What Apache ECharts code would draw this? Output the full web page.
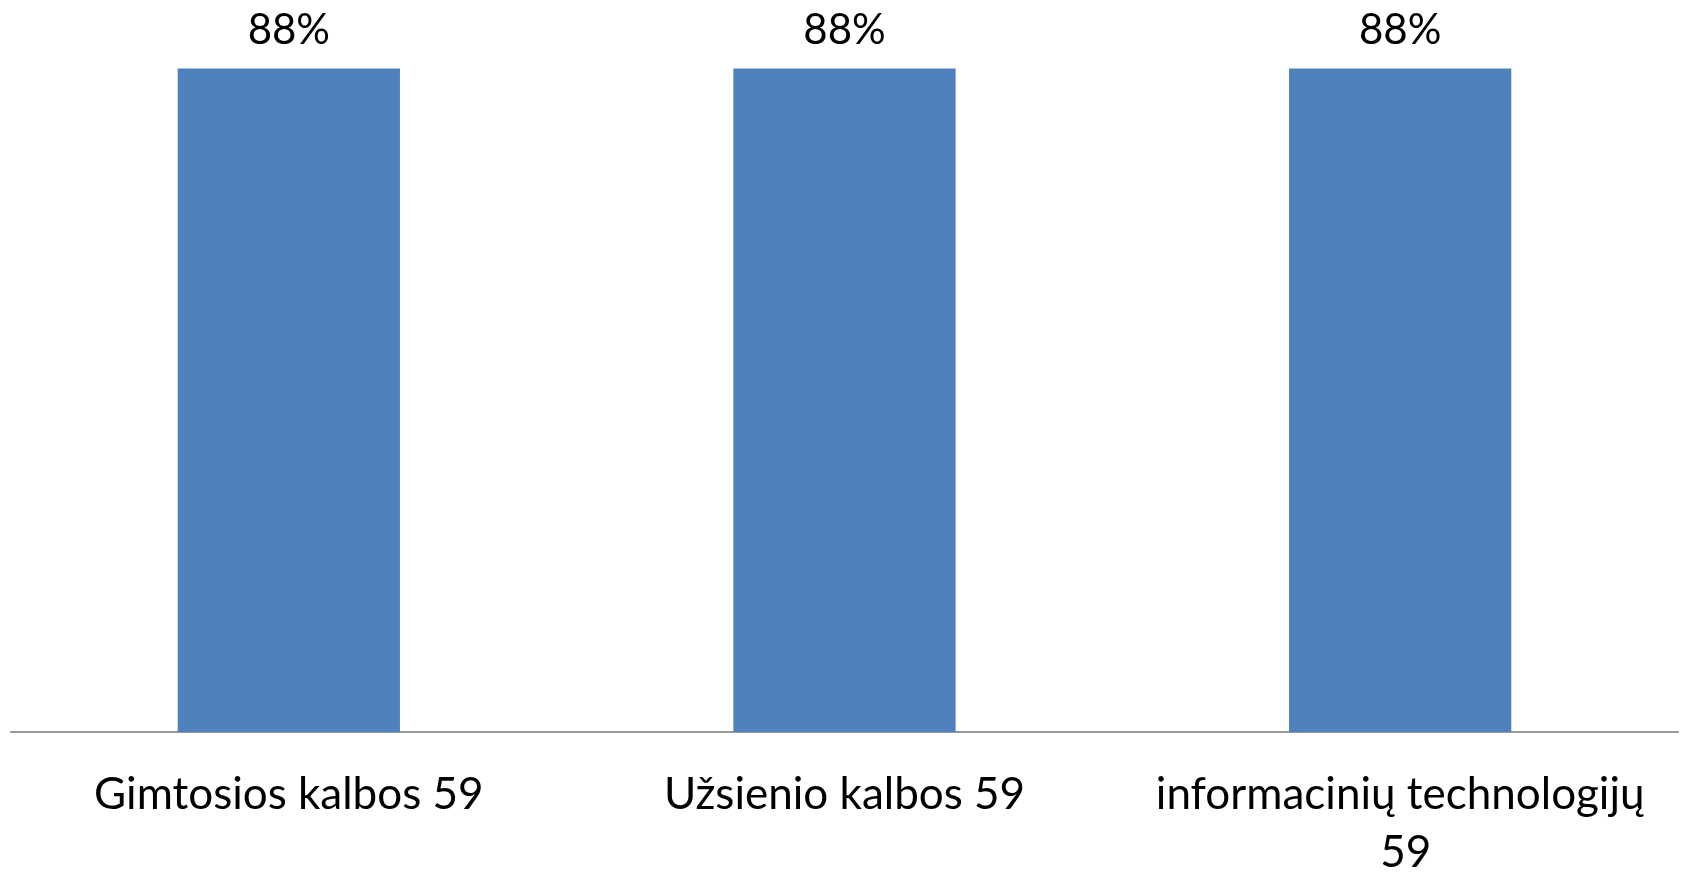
<!DOCTYPE html>
<html><head><meta charset="utf-8">
<script src="https://cdn.jsdelivr.net/npm/echarts@6/dist/echarts.min.js"></script>
<style>html,body{margin:0;padding:0;background:#fff}#c{width:1681px;height:872px}</style>
</head><body><div id="c"></div>
<script>
const categories = ["Gimtosios kalbos 59", "Užsienio kalbos 59", "informacinių technologijų 59"];
const values = [88, 88, 88];

const FONT = 'Lato';
const chart = echarts.init(document.getElementById('c'), null, {renderer: 'canvas'});
chart.setOption({
  animation: false,
  grid: {left: 11, right: 3, top: -22, bottom: 140, containLabel: false, outerBoundsMode: 'none'},
  xAxis: {
    type: 'category',
    data: categories,
    axisLine: {lineStyle: {color: '#999999', width: 2}},
    axisTick: {show: false},
    axisLabel: {
      interval: 0, color: '#000', fontFamily: FONT, fontSize: 44,
      margin: 34, lineHeight: 58, width: 530, overflow: 'break'
    }
  },
  yAxis: {type: 'value', min: 0, max: 100, show: false, splitLine: {show: false}},
  series: [{
    type: 'bar', data: values, barWidth: '40%',
    itemStyle: {color: '#4F81BD'},
    label: {
      show: true, position: 'top', distance: 17, color: '#000',
      fontFamily: FONT, fontSize: 42, formatter: p => p.value + '%'
    }
  }]
});
</script></body></html>
